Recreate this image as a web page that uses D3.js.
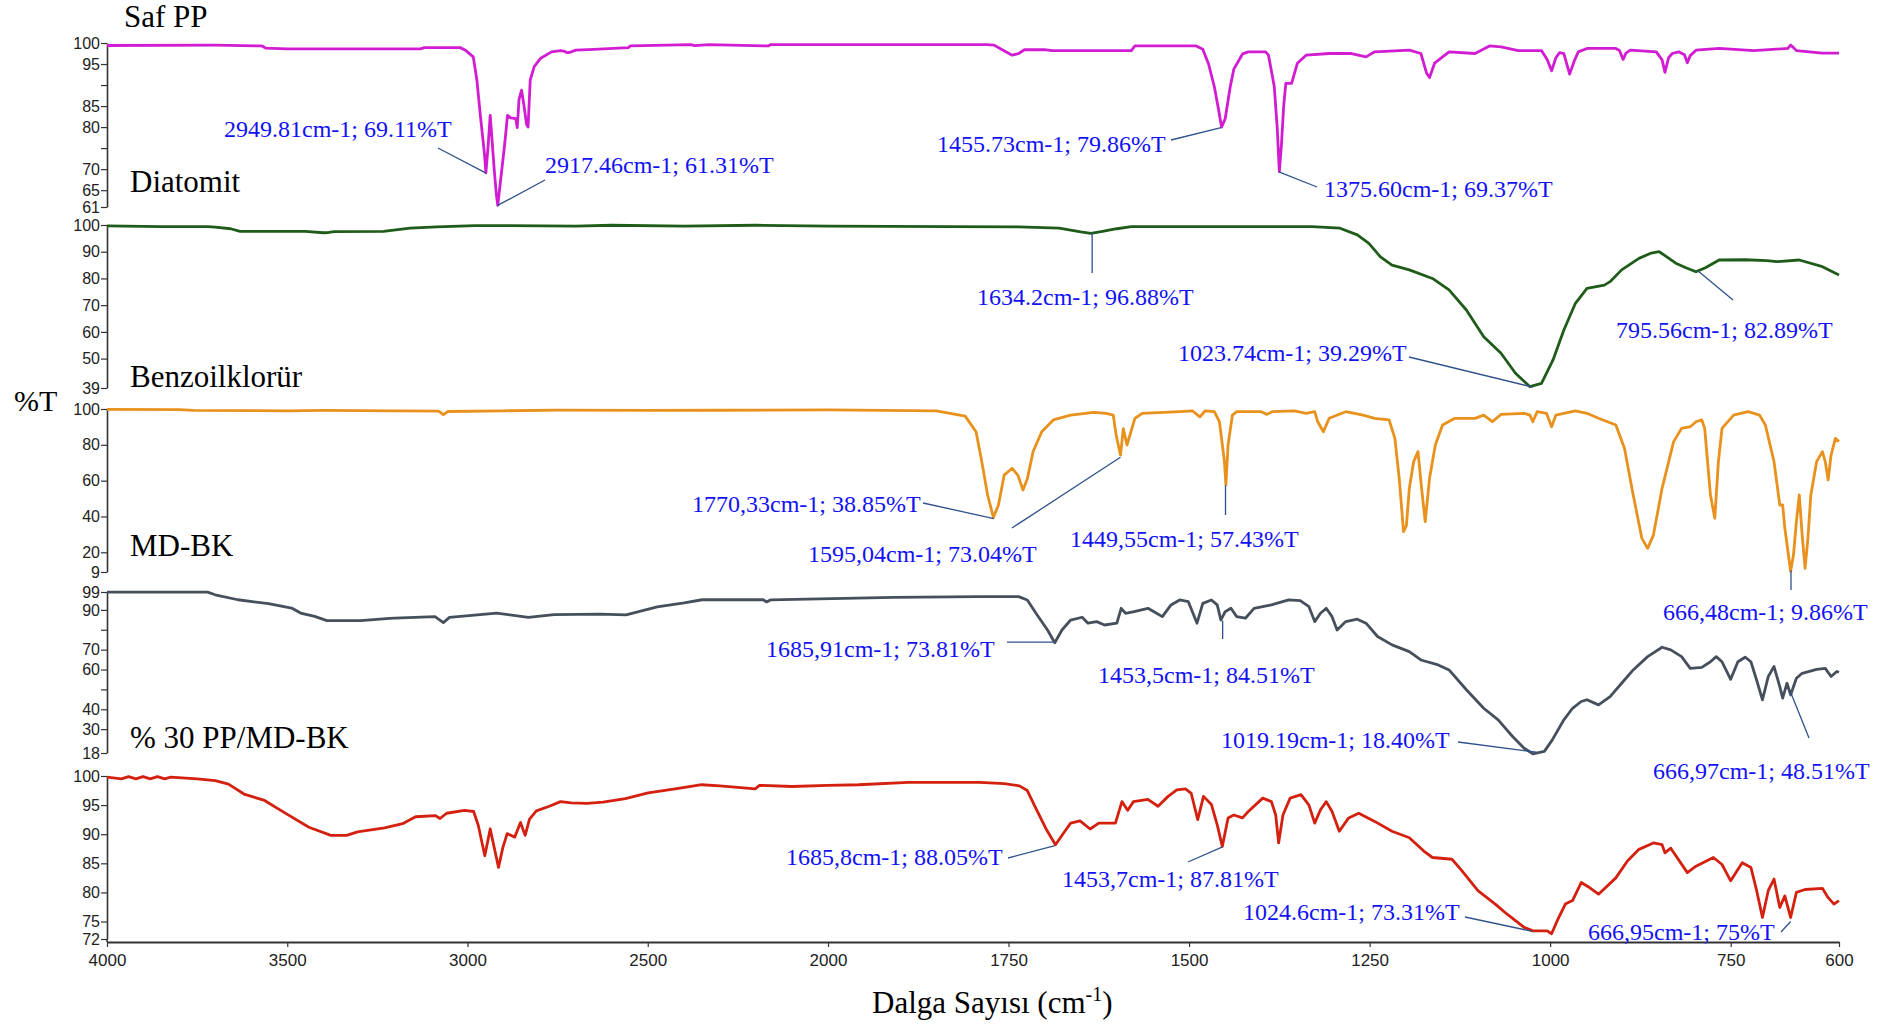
<!DOCTYPE html>
<html>
<head>
<meta charset="utf-8">
<script src="https://cdn.jsdelivr.net/npm/d3@7/dist/d3.min.js"></script>
<style>
  body { margin: 0; background: #fff; }
  .tick text { font-family: "Liberation Sans", Arial, sans-serif; fill: #222; }
</style>
</head>
<body>
<svg id="chart" width="1892" height="1025"></svg>
<script>
// wavenumber axis
const xTicks = [4000, 3500, 3000, 2500, 2000, 1750, 1500, 1250, 1000, 750, 600];

// sample names
const names = ["Saf PP", "Diatomit", "Benzoilklorür", "MD-BK", "% 30 PP/MD-BK"];

// %T axis of each panel
const yDomains = [[61, 100], [39, 100], [9, 100], [18, 99], [72, 100]];
const yTicks = [
  [100, 95, 90, 85, 80, 75, 70, 65, 61],
  [100, 90, 80, 70, 60, 50, 39],
  [100, 80, 60, 40, 20, 9],
  [99, 90, 80, 70, 60, 50, 40, 30, 18],
  [100, 95, 90, 85, 80, 75, 72]
];
const yTickLabels = [
  [100, 95, 85, 80, 70, 65, 61],
  [100, 90, 80, 70, 60, 50, 39],
  [100, 80, 60, 40, 20, 9],
  [99, 90, 70, 60, 40, 30, 18],
  [100, 95, 90, 85, 80, 75, 72]
];

// spectra: wavenumber (cm-1) and %T
const ppWn = [4000, 3700, 3570, 3560, 3500, 3130, 3120, 3020, 3006, 2984, 2974, 2964, 2953, 2949, 2943, 2937, 2932, 2926, 2920, 2916, 2910, 2897, 2889, 2880, 2866, 2862, 2857, 2850, 2844, 2836, 2832, 2826, 2815, 2798, 2767, 2742, 2730, 2724, 2715, 2700, 2650, 2554, 2548, 2380, 2370, 2330, 2166, 2160, 1780, 1770, 1760, 1745, 1736, 1728, 1700, 1690, 1580, 1575, 1490, 1481, 1473, 1465, 1459, 1455, 1450, 1443, 1438, 1426, 1418, 1394, 1390, 1382, 1378, 1375, 1372, 1369, 1366, 1358, 1350, 1338, 1306, 1275, 1255, 1243, 1195, 1179, 1171, 1167, 1160, 1140, 1104, 1084, 1068, 1044, 1012, 1004, 998, 992, 987, 981, 973, 966, 961, 949, 909, 904, 899, 895, 889, 853, 845, 841, 836, 831, 822, 814, 810, 806, 798, 766, 718, 671, 667, 663, 659, 623, 600];
const ppT = [99.4, 99.5, 99.3, 98.8, 98.6, 98.6, 98.9, 98.9, 98.3, 96.7, 91.2, 82.5, 73.7, 69.1, 75.3, 82.8, 77, 70, 64, 61.4, 66, 75.8, 82.8, 82.2, 82, 79.9, 86.6, 88.8, 85.5, 80.6, 80, 91.2, 94.4, 96.3, 97.9, 98.2, 98.0, 97.7, 97.8, 98.3, 98.5, 98.9, 99.3, 99.6, 99.4, 99.6, 99.3, 99.6, 99.6, 99.5, 98.5, 97.1, 97.5, 98.4, 98.4, 98.2, 98.2, 99.3, 99.3, 98.5, 95, 89.6, 84, 80, 82, 89.6, 93.8, 97.4, 97.9, 97.9, 97.1, 89.6, 80, 69.4, 76, 85, 90.4, 90.4, 95.2, 97.1, 97.5, 97.5, 96.7, 97.9, 98.3, 97.5, 92.8, 91.8, 95.2, 97.9, 97.5, 99.3, 99.1, 98.2, 98.2, 96, 93.4, 96.5, 97.7, 97.5, 92.6, 96, 97.9, 98.7, 98.7, 98.2, 96.1, 97.6, 98.3, 97.9, 96, 93, 96.5, 97.5, 97.9, 97.2, 95.3, 97, 98.3, 98.7, 98.2, 98.7, 99.5, 98.9, 98.2, 97.6, 97.6];

const diaWn = [4000, 3850, 3720, 3700, 3657, 3631, 3450, 3400, 3385, 3370, 3233, 3159, 3085, 2979, 2700, 2600, 2400, 2200, 2000, 1831, 1736, 1680, 1650, 1636, 1620, 1600, 1580, 1330, 1291, 1267, 1251, 1235, 1219, 1195, 1163, 1140, 1116, 1092, 1068, 1048, 1028, 1012, 996, 981, 965, 949, 925, 917, 901, 877, 860, 849, 838, 826, 812, 798, 785, 766, 730, 700, 686, 655, 623, 600];
const diaT = [99.7, 99.4, 99.4, 99.2, 98.6, 97.6, 97.6, 97.1, 97.2, 97.5, 97.6, 98.8, 99.3, 99.8, 99.6, 99.9, 99.6, 99.9, 99.6, 99.4, 99.3, 98.8, 97.4, 96.9, 97.6, 98.6, 99.4, 99.4, 98.8, 96.3, 93.1, 88.1, 85.0, 83.2, 80.0, 75.7, 68.2, 58.2, 52.0, 44.5, 39.5, 40.7, 49.5, 60.7, 70.7, 76.3, 77.5, 78.8, 83.2, 87.5, 89.5, 90.0, 88, 85.7, 84, 82.5, 84, 86.9, 87, 86.7, 86.3, 86.9, 84.4, 81.3];

const bkWn = [4000, 3800, 3760, 3500, 3400, 3200, 3080, 3067, 3055, 2900, 2750, 2500, 2300, 2000, 1850, 1831, 1810, 1795, 1787, 1779, 1771, 1764, 1756, 1745, 1737, 1730, 1724, 1716, 1704, 1688, 1664, 1632, 1615, 1605, 1601, 1595, 1591, 1586, 1580, 1575, 1565, 1513, 1495, 1485, 1478, 1465, 1458, 1451, 1449, 1446, 1440, 1434, 1400, 1392, 1385, 1354, 1338, 1326, 1322, 1314, 1306, 1283, 1259, 1243, 1223, 1215, 1209, 1203, 1199, 1195, 1189, 1183, 1178, 1173, 1167, 1159, 1149, 1132, 1104, 1092, 1080, 1068, 1036, 1028, 1024, 1018, 1005, 998, 992, 965, 949, 933, 909, 897, 885, 873, 865, 857, 845, 829, 818, 806, 798, 790, 786, 778, 772, 767, 762, 746, 726, 710, 702, 690, 682, 678, 675, 667, 663, 659, 655, 651, 647, 643, 639, 631, 623, 619, 615, 611, 605, 600];
const bkT = [99.8, 99.6, 99.2, 99.0, 99.2, 99.0, 98.8, 96.8, 98.6, 99.0, 99.4, 99.2, 99.3, 99.5, 98.9, 97.6, 96, 87.3, 70.6, 52, 39.5, 46.4, 63.1, 66.9, 63, 54.8, 61, 76.2, 87.3, 93.9, 96.6, 98.1, 97.6, 96.6, 85.5, 74.3, 89, 79.9, 88, 94.8, 97.6, 98.5, 98.9, 95.6, 98.9, 98.5, 93, 70.6, 57.6, 79.9, 96.6, 98.5, 98.5, 97.0, 98.5, 98.9, 97.6, 98.5, 93, 87.3, 94.8, 98.5, 96.6, 94.8, 93.9, 83.6, 61.3, 31.5, 35, 55.7, 70.6, 76.2, 55.7, 37.1, 61.3, 79.9, 91.1, 94.8, 94.8, 96.6, 92.9, 97.0, 97.6, 96.6, 92.9, 98.5, 97.6, 90.1, 96.6, 98.9, 97.6, 94.8, 91.1, 78, 52, 27.8, 22.2, 29.6, 55.7, 81.8, 89.2, 90.1, 92.9, 93.9, 89.2, 52, 39, 70.6, 89.2, 96.6, 98.5, 96.6, 91.1, 70.6, 46.4, 46.4, 33.4, 9.4, 18.6, 37.1, 52, 29.6, 11, 28, 52, 70.6, 76.2, 70.6, 60.4, 74.3, 83.6, 81.8];

const mdWn = [4000, 3721, 3700, 3637, 3552, 3488, 3463, 3424, 3390, 3296, 3216, 3202, 3090, 3067, 3050, 2919, 2831, 2760, 2632, 2560, 2474, 2399, 2349, 2180, 2170, 2160, 1909, 1831, 1790, 1736, 1724, 1712, 1696, 1686, 1676, 1664, 1648, 1640, 1628, 1617, 1600, 1594, 1588, 1576, 1557, 1545, 1537, 1525, 1513, 1501, 1489, 1481, 1469, 1461, 1456, 1450, 1442, 1434, 1422, 1410, 1386, 1362, 1346, 1334, 1326, 1318, 1310, 1302, 1295, 1283, 1267, 1255, 1239, 1219, 1195, 1179, 1155, 1140, 1116, 1092, 1072, 1052, 1036, 1024, 1008, 997, 981, 969, 957, 949, 933, 917, 901, 885, 865, 845, 833, 818, 806, 790, 778, 770, 762, 750, 740, 730, 722, 714, 706, 698, 690, 682, 678, 672, 667, 659, 651, 631, 619, 611, 603, 600];
const mdT = [98.9, 98.9, 97.6, 95.1, 93.1, 90.9, 88.4, 86.7, 84.6, 84.6, 85.7, 85.9, 86.6, 83.6, 86.2, 88.4, 86.2, 87.6, 87.9, 87.5, 91.5, 93.5, 95.1, 95.1, 94, 95, 96.3, 96.5, 96.7, 96.7, 95, 88.3, 79.9, 73.5, 79.9, 84.9, 86.3, 83.3, 84.1, 82.4, 83.3, 90.8, 88.3, 89.1, 90.8, 88.3, 86.6, 92.5, 95, 94.1, 83.3, 93.3, 95, 92.5, 84.9, 89.1, 90.8, 86.6, 85.8, 90.8, 92.5, 95, 94.7, 91.6, 84.1, 88.3, 90.8, 86.6, 79.9, 84.1, 85.3, 83.3, 76.6, 72.4, 69, 64.8, 62.3, 59.8, 49.8, 40.5, 34.7, 26.3, 20.4, 17.6, 18.8, 24.6, 34.7, 40.5, 43.9, 44.8, 42.2, 46.4, 53.1, 59.8, 66.5, 71.2, 69.9, 66.5, 60.6, 61.1, 63.9, 66.5, 63.9, 55.1, 63.9, 66.2, 63.9, 54.6, 44.7, 56.4, 61.5, 51.4, 45.6, 53.1, 47.2, 55.6, 58.1, 60.1, 60.6, 56.5, 59, 58.6];

const pmWn = [4000, 3960, 3940, 3920, 3900, 3880, 3860, 3840, 3823, 3750, 3700, 3663, 3620, 3563, 3502, 3440, 3379, 3335, 3305, 3230, 3180, 3144, 3089, 3076, 3058, 3008, 2983, 2970, 2952, 2937, 2914, 2902, 2890, 2869, 2853, 2840, 2828, 2809, 2773, 2742, 2712, 2668, 2624, 2584, 2562, 2499, 2424, 2350, 2300, 2202, 2190, 2100, 2000, 1958, 1889, 1790, 1756, 1735, 1724, 1714, 1698, 1685, 1672, 1664, 1651, 1637, 1625, 1602, 1593, 1585, 1577, 1557, 1543, 1529, 1517, 1505, 1497, 1488, 1480, 1469, 1461, 1454, 1446, 1438, 1426, 1418, 1398, 1386, 1380, 1376, 1370, 1360, 1345, 1334, 1326, 1318, 1310, 1302, 1292, 1279, 1265, 1243, 1219, 1195, 1175, 1163, 1136, 1124, 1100, 1076, 1060, 1036, 1024, 1004, 998, 990, 979, 969, 957, 945, 933, 909, 893, 877, 857, 845, 841, 833, 810, 798, 774, 762, 750, 734, 722, 714, 706, 698, 690, 682, 675, 667, 659, 647, 623, 615, 607, 600];
const pmT = [99.8, 99.5, 99.9, 99.5, 99.9, 99.5, 99.9, 99.5, 99.8, 99.5, 99.2, 98.6, 96.9, 95.8, 93.5, 91.2, 89.8, 89.8, 90.4, 91.1, 91.8, 93.0, 93.2, 92.7, 93.6, 94.1, 93.9, 91.5, 86.3, 90.9, 84.3, 87.7, 90.1, 89.5, 92.0, 89.8, 92.6, 94.0, 94.8, 95.6, 95.4, 95.3, 95.5, 95.9, 96.1, 97.1, 97.8, 98.5, 98.3, 97.8, 98.4, 98.2, 98.4, 98.5, 98.9, 98.9, 98.7, 98.3, 97.5, 94.9, 90.9, 88.2, 90.5, 91.9, 92.3, 90.9, 91.9, 91.9, 95.6, 94.1, 95.6, 96.0, 94.8, 96.5, 97.6, 97.8, 97.0, 92.5, 96.5, 95.1, 91.6, 87.9, 92.8, 93.3, 92.8, 93.9, 96.2, 95.6, 93.3, 88.5, 93.3, 96.2, 96.8, 95.0, 91.9, 94.2, 95.6, 93.9, 90.5, 92.8, 93.6, 92.2, 90.5, 89.4, 87.1, 86.0, 85.7, 84.0, 80.3, 78.0, 76.3, 74.0, 73.4, 73.4, 72.9, 75.2, 78.0, 78.6, 81.7, 80.8, 79.7, 82.5, 85.4, 87.4, 88.5, 88.2, 86.8, 87.6, 83.4, 84.5, 86.0, 84.8, 82.0, 85.1, 84.3, 80.3, 75.7, 80.3, 82.3, 77.4, 79.4, 75.7, 80.0, 80.5, 80.7, 79.1, 78.0, 78.6];

const seriesWn = [ppWn, diaWn, bkWn, mdWn, pmWn];
const seriesT = [ppT, diaT, bkT, mdT, pmT];
const colors = ["#d21cd2", "#1f5c19", "#e8911c", "#46505c", "#d4200f"];

// peak labels
const annLabels = ["2949.81cm-1; 69.11%T", "2917.46cm-1; 61.31%T", "1455.73cm-1; 79.86%T", "1375.60cm-1; 69.37%T",
  "1634.2cm-1; 96.88%T", "1023.74cm-1; 39.29%T", "795.56cm-1; 82.89%T",
  "1770,33cm-1; 38.85%T", "1595,04cm-1; 73.04%T", "1449,55cm-1; 57.43%T", "666,48cm-1; 9.86%T",
  "1685,91cm-1; 73.81%T", "1453,5cm-1; 84.51%T", "1019.19cm-1; 18.40%T", "666,97cm-1; 48.51%T",
  "1685,8cm-1; 88.05%T", "1453,7cm-1; 87.81%T", "1024.6cm-1; 73.31%T", "666,95cm-1; 75%T"];
const annPanel = [0, 0, 0, 0, 1, 1, 1, 2, 2, 2, 2, 3, 3, 3, 3, 4, 4, 4, 4];
const annWn = [2949.81, 2917.46, 1455.73, 1375.60, 1634.2, 1023.74, 795.56, 1770.33, 1595.04, 1449.55, 666.48,
  1685.91, 1453.5, 1019.19, 666.97, 1685.8, 1453.7, 1024.6, 666.95];
const annT = [69.11, 61.31, 79.86, 69.37, 96.88, 39.29, 82.89, 38.85, 73.04, 57.43, 9.86,
  73.81, 84.51, 18.40, 48.51, 88.05, 87.81, 73.31, 75];

// layout
const panelTop = [43, 225, 409, 592, 776];
const panelBottom = [207, 388, 572, 753, 939];
const titlePos = [[124, 27], [130, 192], [130, 387], [130, 556], [130, 748]];
// text start / baseline, then far end of leader line
const annText = [[224, 137], [545, 173], [937, 152], [1324, 197], [977, 305], [1178, 361], [1616, 338],
  [692, 512], [808, 562], [1070, 547], [1663, 620], [766, 657], [1098, 683], [1221, 748], [1653, 779],
  [786, 865], [1062, 887], [1243, 920], [1588, 940]];
const annEnd = [[438, 148], [545, 180], [1171, 140], [1317, 187], [null, 273], [1409, 357], [1733, 300],
  [923, 503], [1012, 528], [null, 515], [null, 590], [1007, null], [null, 639], [1458, 742], [1809, 738],
  [1008, 858], [1188, 862], [1465, 917], [1781, 932]];

const svg = d3.select("#chart");
const axisY = 942;

const x = d3.scaleLinear().domain([4000, 2000, 600]).range([107, 828, 1839]);

const yScales = yDomains.map((d, i) =>
  d3.scaleLinear().domain(d).range([panelBottom[i], panelTop[i]]));

// panels
yScales.forEach((y, i) => {
  const labels = new Set(yTickLabels[i]);
  const ax = svg.append("g")
    .attr("transform", "translate(107,0)")
    .call(d3.axisLeft(y).tickValues(yTicks[i]).tickSize(6).tickSizeOuter(0).tickPadding(1)
      .tickFormat(v => labels.has(v) ? String(v) : ""));
  ax.select(".domain").attr("stroke", "#333").attr("stroke-width", 1.6);
  ax.selectAll(".tick line").attr("stroke", "#333").attr("stroke-width", 1.2);
  ax.selectAll(".tick text").style("font-size", "16px");

  const pts = seriesWn[i].map((w, j) => [w, seriesT[i][j]]);
  svg.append("path")
    .datum(pts)
    .attr("fill", "none")
    .attr("stroke", colors[i])
    .attr("stroke-width", 2.8)
    .attr("stroke-linejoin", "round")
    .attr("d", d3.line().x(d => x(d[0])).y(d => y(d[1])));

  svg.append("text")
    .attr("x", titlePos[i][0]).attr("y", titlePos[i][1])
    .style("font-family", "'Liberation Serif', 'Times New Roman', serif")
    .style("font-size", "31px")
    .text(names[i]);
});

// bottom y axis reaches the x axis
svg.append("line")
  .attr("x1", 107).attr("x2", 107)
  .attr("y1", panelBottom[4]).attr("y2", axisY)
  .attr("stroke", "#333").attr("stroke-width", 1.6);

// x axis
const xa = svg.append("g")
  .attr("transform", `translate(0,${axisY})`)
  .call(d3.axisBottom(x).tickValues(xTicks).tickSize(5).tickSizeOuter(0).tickPadding(7)
    .tickFormat(d => String(d)));
xa.select(".domain").attr("stroke", "#333").attr("stroke-width", 1.8);
xa.selectAll(".tick line").attr("stroke", "#333").attr("stroke-width", 1.2);
xa.selectAll(".tick text").style("font-size", "17px");

// peak labels
annLabels.forEach((lab, k) => {
  const y = yScales[annPanel[k]];
  const px = x(annWn[k]), py = y(annT[k]);
  const ex = annEnd[k][0] === null ? px : annEnd[k][0];
  const ey = annEnd[k][1] === null ? py : annEnd[k][1];
  svg.append("line")
    .attr("x1", ex).attr("y1", ey).attr("x2", px).attr("y2", py)
    .attr("stroke", "#2f528c").attr("stroke-width", 1.3);
  svg.append("text")
    .attr("x", annText[k][0]).attr("y", annText[k][1])
    .attr("fill", "#1212f5")
    .style("font-family", "'Liberation Serif', 'Times New Roman', serif")
    .style("font-size", "24px")
    .text(lab);
});

// axis titles
svg.append("text")
  .attr("x", 14).attr("y", 411)
  .style("font-family", "'Liberation Serif', 'Times New Roman', serif")
  .style("font-size", "30px")
  .text("%T");

const xt = svg.append("text")
  .attr("x", 872).attr("y", 1013)
  .style("font-family", "'Liberation Serif', 'Times New Roman', serif")
  .style("font-size", "31px");
xt.append("tspan").text("Dalga Sayısı (cm");
xt.append("tspan").attr("dy", -12).style("font-size", "20px").text("-1");
xt.append("tspan").attr("dy", 12).text(")");
</script>
</body>
</html>
